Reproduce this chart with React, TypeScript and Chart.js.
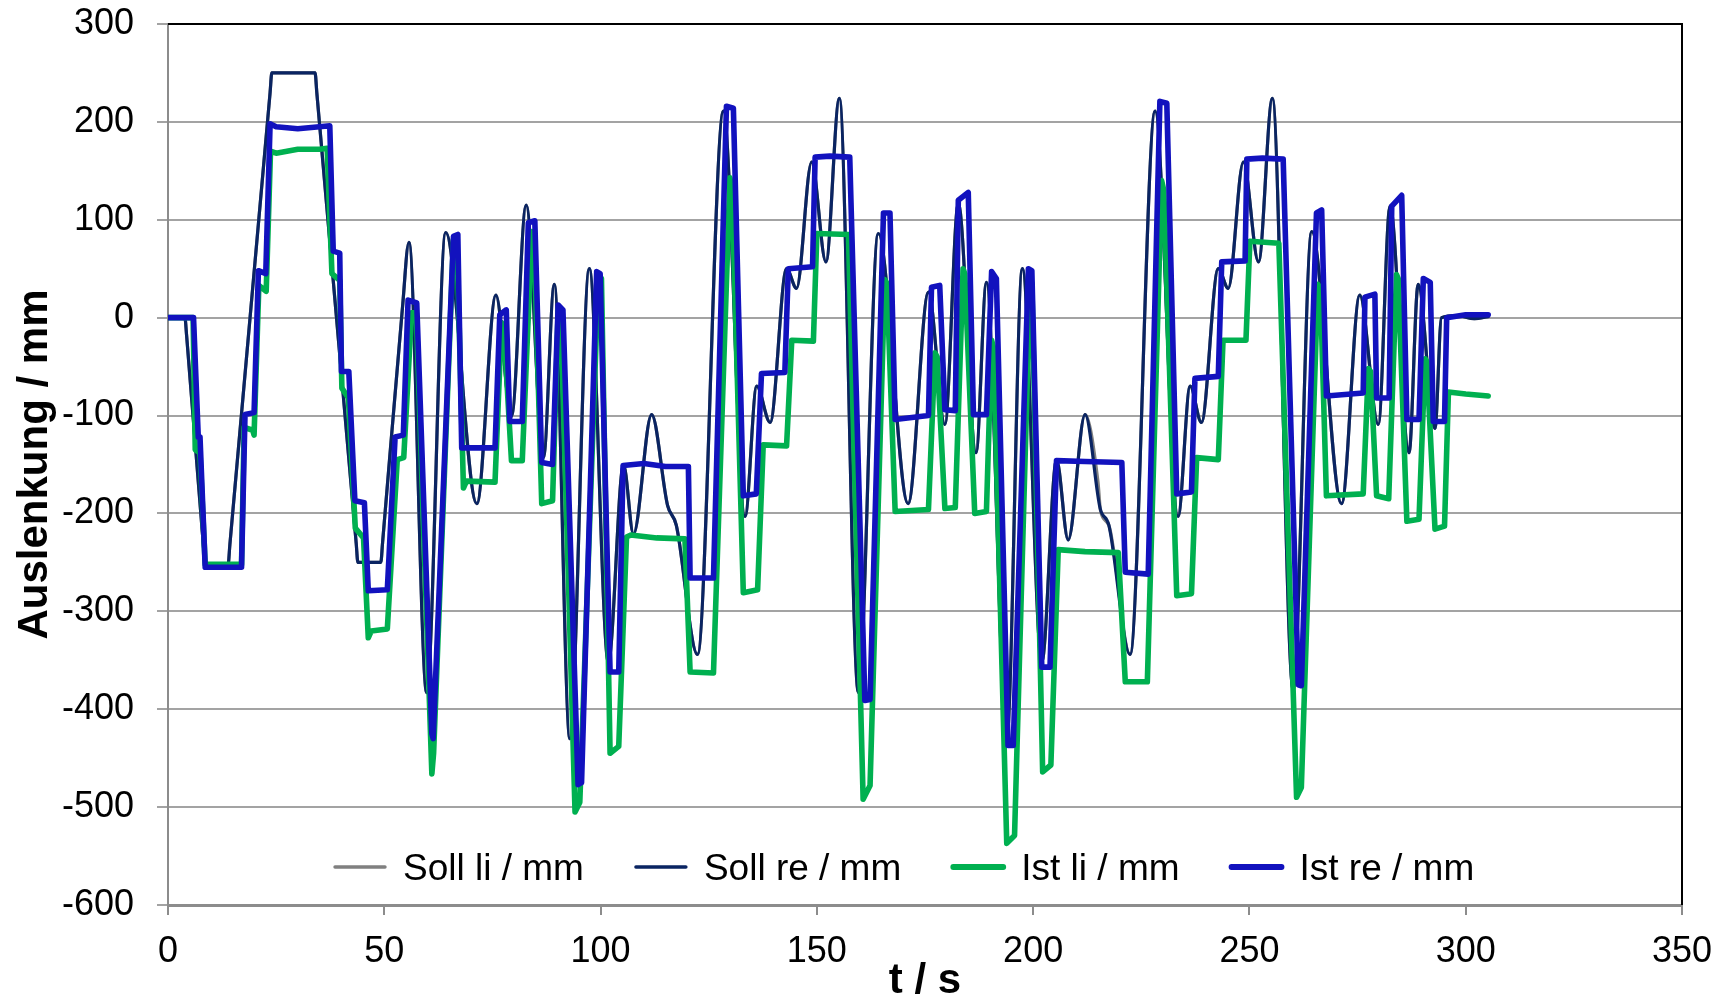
import { useEffect, useRef } from "react";
import { Chart, registerables } from "chart.js";

Chart.register(...registerables);

const FONT = '"Liberation Sans", Arial, Helvetica, sans-serif';

// Axis ranges / tick steps
const xRange = [0, 350];
const xStep = 50;
const yRange = [-600, 300];
const yStep = 100;

const seriesLabels = ["Soll li / mm", "Soll re / mm", "Ist li / mm", "Ist re / mm"];
const seriesColors = ["#808080", "#0A2462", "#00B050", "#1212BE"];

// Soll li: time [s] / deflection [mm]
const sollLiT = [
  0, 3.9, 4.3, 8.2, 8.6, 13.9, 14.3, 23.6, 24, 34,
  34.4, 43.5, 43.9, 49.2, 49.6, 54.2, 55.7, 59.8, 64.2, 71.4,
  75.8, 79.4, 82.8, 86.8, 89.3, 92.9, 97.4, 101.8, 105.3, 107.6,
  111.8, 115.5, 117.5, 122.4, 128.4, 133.4, 136.1, 139.2, 143, 145.3,
  148.8, 152.1, 155.2, 159.6, 164.2, 171.1, 175.8, 179.6, 182.7, 186.8,
  189.2, 193.9, 197.5, 202, 205.4, 208.1, 212, 215, 215.6, 217.5, 222.4,
  228.2, 233.5, 236.3, 238.9, 242.8, 245.1, 248.6, 252.1, 255.3, 260.1,
  264.4, 271.3, 275.5, 279.8, 282.5, 286.9, 289, 292.9, 294.4, 298,
  302, 305.2,
];
const sollLiV = [
  0, 0, -18, -234, -252, -252, -232, 230, 250, 250,
  230, -230, -250, -250, -230, 10, 77, -383, 87, -190,
  23, -101, 115, -143, 34, -430, 50, -352, -150, -221,
  -99, -192, -212, -344, 211, -203, -70, -107, 50, 30,
  159, 57, 224, -383, 86, -190, 26, -109, 117, -138,
  36, -430, 50, -352, -145, -227, -99, -168, -198, -212, -344,
  211, -203, -70, -107, 50, 30, 159, 57, 224, -380,
  88, -190, 23, -109, 114, -138, 34, -113, 0, 2,
  -1, 1,
];

// Soll re
const sollReT = [
  0, 3.9, 4.3, 8.2, 8.6, 13.9, 14.3, 23.6, 24, 34,
  34.4, 43.5, 43.9, 49.2, 49.6, 54.2, 55.7, 59.8, 64.2, 71.4,
  75.8, 79.4, 82.8, 86.8, 89.3, 92.9, 97.4, 101.8, 105.3, 107.6,
  111.8, 115.5, 117.5, 122.4, 128.4, 133.4, 136.1, 139.2, 143, 145.3,
  148.8, 152.1, 155.2, 159.6, 164.2, 171.1, 175.8, 179.6, 182.7, 186.8,
  189.2, 193.9, 197.5, 202, 205.4, 208.1, 212, 215.5, 217.5, 222.4,
  228.2, 233.5, 236.3, 238.9, 242.8, 245.1, 248.6, 252.1, 255.3, 260.1,
  264.4, 271.3, 275.5, 279.8, 282.5, 286.9, 289, 292.9, 294.4, 298,
  302, 305.2,
];
const sollReV = [
  0, 0, -18, -234, -252, -252, -232, 230, 250, 250,
  230, -230, -250, -250, -230, 10, 77, -383, 87, -190,
  23, -101, 115, -143, 34, -430, 50, -352, -150, -221,
  -99, -192, -212, -344, 211, -203, -70, -107, 50, 30,
  159, 57, 224, -383, 86, -190, 26, -109, 117, -138,
  36, -430, 50, -352, -145, -227, -99, -195, -212, -344,
  211, -203, -70, -107, 50, 30, 159, 57, 224, -380,
  88, -190, 23, -109, 114, -138, 34, -113, 0, 2,
  -1, 1,
];

// Ist li
const istLiT = [
  0, 5.8, 6.3, 7.4, 8.6, 17, 17.6, 19.6, 19.9, 21,
  22.7, 23.7, 25, 30, 35, 36.8, 37.9, 39.7, 40.2, 41.7,
  43.3, 45.2, 46.3, 47, 50.7, 53, 54.5, 56.3, 57.4, 61,
  61.4, 66, 66.8, 68.3, 69, 75.6, 77.1, 77.6, 79.4, 81.9,
  84.1, 84.6, 86.4, 88.9, 90.2, 90.8, 94.1, 95.2, 99.5, 100.2,
  102.2, 104.2, 106, 107, 113, 119.5, 120.7, 126.1, 129.9, 130.4,
  133, 136.3, 137.6, 143, 144.2, 149.2, 150, 157.3, 160.7, 162.3,
  165.7, 166.2, 168.1, 175.8, 177.3, 177.8, 179.6, 182, 183.8, 184.2,
  186.5, 189.2, 190.4, 190.8, 193.9, 195.7, 199.3, 199.7, 202.2, 204.1,
  205.8, 212, 219.7, 221.3, 226.4, 229.7, 230.2, 233.2, 236.6, 237.8,
  242.8, 243.9, 249.2, 250.1, 256.8, 260.9, 262, 265.8, 266.4, 267.8,
  276.3, 277.5, 278, 279.4, 282.2, 284, 284.4, 286.4, 289.2, 290.6,
  291, 292.9, 295.1, 296, 300, 305.2,
];
const istLiV = [
  0, 0, -135, -138, -252, -252, -112, -115, -120, 33,
  27, 170, 168, 172, 172, 173, 45, 38, -72, -82,
  -215, -225, -327, -320, -318, -145, -143, 5, 5, -466,
  -445, 80, 78, -174, -167, -168, -5, -8, -146, -146,
  88, 85, -190, -187, 8, 5, -505, -495, 44, 40,
  -445, -438, -224, -222, -225, -226, -362, -363, 143, 130,
  -281, -278, -130, -131, -23, -24, 86, 85, -492, -478,
  39, 35, -198, -196, -36, -40, -195, -194, 50, 45,
  -200, -198, -23, -30, -537, -529, 40, 35, -464, -457,
  -237, -239, -240, -372, -372, 140, 130, -284, -282, -143,
  -145, -23, -23, 78, 76, -490, -480, 34, 30, -182,
  -180, -52, -55, -182, -185, 44, 40, -208, -206, -42,
  -45, -216, -213, -76, -78, -80,
];

// Ist re
const istReT = [
  0, 5.9, 7, 7.4, 8.6, 17, 17.8, 19.9, 20.9, 22.6,
  23.6, 25, 30, 35, 37.4, 38.2, 39.7, 40.1, 41.8, 43.2,
  45.4, 46.3, 50.7, 52.5, 54.4, 55.5, 57.5, 61, 61.3, 66,
  67, 67.9, 75.6, 76.7, 78.2, 79, 81.9, 83.3, 84.8, 86.4,
  88.9, 90.2, 91.3, 94.8, 95.6, 99.1, 99.9, 102.2, 104.2, 105.2,
  110, 115, 120.3, 120.7, 126.1, 129.1, 130.7, 133, 136, 137.2,
  142.6, 143.4, 149, 149.6, 153, 157.6, 161.1, 162.3, 165.4, 166.9,
  168.1, 175.8, 176.5, 178.4, 179.6, 182, 182.7, 185, 186.2, 189.2,
  190.4, 191.5, 194.2, 195.4, 198.9, 199.7, 202, 203.9, 205.4, 212,
  220.5, 221.3, 226.6, 229.3, 230.9, 233.2, 236.6, 237.4, 242.8, 243.6,
  249, 249.4, 253, 257.8, 261.3, 262, 265.5, 266.7, 267.8, 276.3,
  276.7, 279, 279.4, 282.3, 282.9, 285.2, 286.4, 289.2, 290.2, 291.8,
  292.5, 295.1, 295.6, 300, 305.2,
];
const istReV = [
  0, 0, -122, -122, -255, -255, -99, -97, 48, 45,
  198, 195, 193, 195, 196, 68, 66, -55, -55, -187,
  -189, -279, -278, -122, -120, 18, 15, -425, -430, 83,
  85, -133, -133, 3, 8, -106, -106, 97, 99, -148,
  -150, 13, 8, -477, -475, 47, 45, -362, -362, -151,
  -149, -152, -152, -266, -266, 216, 214, -182, -180, -57,
  -56, 50, 52, 164, 165, 164, -391, -390, 107, 107,
  -104, -100, 31, 33, -94, -95, 120, 128, -99, -99,
  47, 40, -437, -437, 50, 48, -357, -357, -146, -147,
  -148, -260, -262, 221, 219, -180, -178, -62, -60, 57,
  58, 162, 163, 162, -375, -376, 107, 110, -80, -77,
  21, 24, -82, -82, 114, 125, -104, -104, 40, 36,
  -106, -106, 0, 3, 3,
];

const toPoints = (t: number[], v: number[]) => t.map((x, i) => ({ x, y: v[i] }));

// Black frame on the top and right edge of the plot area
const framePlugin = {
  id: "plotFrame",
  beforeDatasetsDraw(chart: any) {
    const { ctx, chartArea: a } = chart;
    ctx.save();
    ctx.strokeStyle = "#000";
    ctx.lineWidth = 2;
    ctx.beginPath();
    ctx.moveTo(a.left, a.top);
    ctx.lineTo(a.right, a.top);
    ctx.lineTo(a.right, a.bottom);
    ctx.stroke();
    ctx.restore();
  },
};

// Legend drawn as one row inside the bottom of the plot area
const legendPlugin = {
  id: "insideLegend",
  afterDraw(chart: any) {
    const { ctx } = chart;
    const lineY = 867;
    const textY = 880;
    let x = 333;
    ctx.save();
    ctx.font = `37px ${FONT}`;
    ctx.textBaseline = "alphabetic";
    ctx.textAlign = "left";
    ctx.lineCap = "round";
    chart.data.datasets.forEach((ds: any, i: number) => {
      ctx.strokeStyle = ds.borderColor;
      ctx.lineWidth = i < 2 ? 3.4 : 5.8;
      ctx.beginPath();
      ctx.moveTo(x + 2, lineY);
      ctx.lineTo(x + 52, lineY);
      ctx.stroke();
      x += 70;
      ctx.fillStyle = "#000";
      ctx.fillText(ds.label, x, textY);
      x += ctx.measureText(ds.label).width + 50;
    });
    ctx.restore();
  },
};

export default function App() {
  const ref = useRef<HTMLCanvasElement>(null);

  useEffect(() => {
    document.body.style.margin = "0";
    const canvas = ref.current;
    if (!canvas) return;

    const series = [
      { t: sollLiT, v: sollLiV, width: 3.2, smooth: true, order: 4 },
      { t: sollReT, v: sollReV, width: 3.2, smooth: true, order: 3 },
      { t: istLiT, v: istLiV, width: 5.6, smooth: false, order: 2 },
      { t: istReT, v: istReV, width: 5.6, smooth: false, order: 1 },
    ];

    const chart = new Chart(canvas, {
      type: "line",
      data: {
        datasets: series.map((s, i) => ({
          label: seriesLabels[i],
          data: toPoints(s.t, s.v),
          borderColor: seriesColors[i],
          backgroundColor: seriesColors[i],
          borderWidth: s.width,
          pointRadius: 0,
          fill: false,
          order: s.order,
          tension: 0,
          cubicInterpolationMode: s.smooth ? "monotone" : "default",
          borderJoinStyle: "round",
          borderCapStyle: "round",
        })),
      },
      options: {
        animation: false,
        responsive: false,
        maintainAspectRatio: false,
        devicePixelRatio: 1,
        locale: "en-US",
        layout: { autoPadding: false, padding: { left: 0, right: 44, top: 24, bottom: 0 } },
        plugins: {
          legend: { display: false },
          tooltip: { enabled: false },
        },
        scales: {
          x: {
            type: "linear",
            min: xRange[0],
            max: xRange[1],
            afterFit: (s: any) => {
              s.height = 95;
              s.paddingLeft = 0;
              s.paddingRight = 0;
            },
            ticks: {
              stepSize: xStep,
              color: "#000",
              font: { family: FONT, size: 36 },
              padding: 15,
              maxRotation: 0,
              autoSkip: false,
            },
            grid: {
              drawOnChartArea: false,
              drawTicks: true,
              tickLength: 10,
              color: "#8c8c8c",
              lineWidth: 2,
            },
            border: { display: true, color: "#8c8c8c", width: 3 },
            title: {
              display: true,
              text: "t / s",
              color: "#000",
              font: { family: FONT, size: 42, weight: "bold" },
              padding: { top: 0, bottom: -7 },
            },
          },
          y: {
            type: "linear",
            min: yRange[0],
            max: yRange[1],
            afterFit: (s: any) => {
              s.width = 168;
              s.paddingTop = 0;
              s.paddingBottom = 0;
            },
            ticks: {
              stepSize: yStep,
              color: "#000",
              font: { family: FONT, size: 36 },
              padding: 23,
            },
            grid: {
              color: "#a3a3a3",
              lineWidth: 2,
              drawTicks: true,
              tickLength: 11,
            },
            border: { display: true, color: "#8c8c8c", width: 2 },
            title: {
              display: true,
              text: "Auslenkung / mm",
              color: "#000",
              font: { family: FONT, size: 42, weight: "bold" },
              padding: { top: 10, bottom: 0 },
            },
          },
        },
      },
      plugins: [framePlugin, legendPlugin],
    } as any);

    return () => chart.destroy();
  }, []);

  return (
    <canvas
      ref={ref}
      width={1726}
      height={1000}
      style={{ display: "block", width: "1726px", height: "1000px" }}
    />
  );
}
